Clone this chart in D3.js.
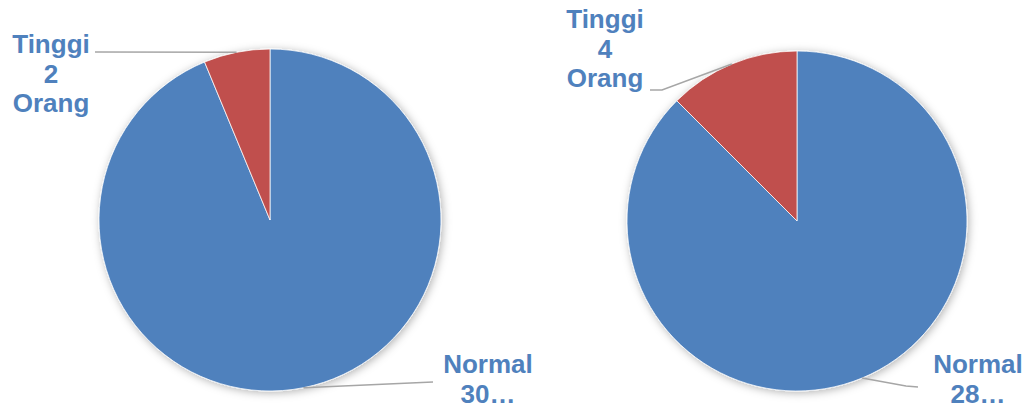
<!DOCTYPE html>
<html>
<head>
<meta charset="utf-8">
<script src="https://cdn.jsdelivr.net/npm/d3@7"></script>
<style>
  html, body { margin: 0; padding: 0; background: #fff; }
  svg { display: block; }
</style>
</head>
<body>
<div id="chart"></div>
<script>
// data
const categories = ["Normal", "Tinggi"];
const valuesLeft = [30, 2];
const valuesRight = [28, 4];
const unit = "Orang";
const colors = ["#4F81BD", "#C0504D"];

const width = 1029;
const height = 409;

// where each pie sits and where its labels go (layout only)
const pies = [
  {
    values: valuesLeft, cx: 270, cy: 220, r: 171,
    labels: [
      { x: 488, y: 373, full: false, line: [[433, 382]] },
      { x: 51, y: 53, full: true, line: [[95, 52]] }
    ]
  },
  {
    values: valuesRight, cx: 797, cy: 221, r: 170,
    labels: [
      { x: 978, y: 373, full: false, line: [[918, 387], [906, 386]] },
      { x: 605, y: 28, full: true, line: [[650, 90], [662, 90]] }
    ]
  }
];

const svg = d3.select("#chart").append("svg")
  .attr("width", width)
  .attr("height", height);

const defs = svg.append("defs");
const shadow = defs.append("filter")
  .attr("id", "shadow")
  .attr("x", "-10%").attr("y", "-10%")
  .attr("width", "120%").attr("height", "120%");
shadow.append("feDropShadow")
  .attr("dx", 1.5).attr("dy", 1.5)
  .attr("stdDeviation", 4)
  .attr("flood-color", "#000")
  .attr("flood-opacity", 0.3);

const pie = d3.pie().sort(null);

pies.forEach(p => {
  const arcs = pie(p.values);
  const arc = d3.arc().innerRadius(0).outerRadius(p.r);
  const edge = d3.arc().innerRadius(p.r).outerRadius(p.r);

  const g = svg.append("g")
    .attr("transform", `translate(${p.cx},${p.cy})`);

  // leader lines, drawn first so they tuck under the pie edge
  const lines = svg.append("g")
    .attr("fill", "none")
    .attr("stroke", "#A6A6A6")
    .attr("stroke-width", 1.5);

  arcs.forEach((a, i) => {
    const c = edge.centroid(a);
    const pts = p.labels[i].line.concat([[p.cx + c[0], p.cy + c[1]]]);
    lines.append("path").attr("d", d3.line()(pts));
  });

  g.append("g")
    .attr("filter", "url(#shadow)")
    .selectAll("path")
    .data(arcs)
    .join("path")
    .attr("d", arc)
    .attr("fill", (d, i) => colors[i])
    .attr("stroke", "#fff")
    .attr("stroke-width", 0.75);

  arcs.forEach((a, i) => {
    const lab = p.labels[i];
    const rows = lab.full
      ? [categories[i], String(a.data), unit]
      : [categories[i], a.data + "\u2026"];
    svg.append("text")
      .attr("text-anchor", "middle")
      .attr("font-family", "'Liberation Sans', Arial, sans-serif")
      .attr("font-weight", "bold")
      .attr("font-size", 26)
      .attr("fill", colors[0])
      .selectAll("tspan")
      .data(rows)
      .join("tspan")
      .attr("x", lab.x)
      .attr("y", (d, k) => lab.y + k * 29.5)
      .text(d => d);
  });
});
</script>
</body>
</html>
